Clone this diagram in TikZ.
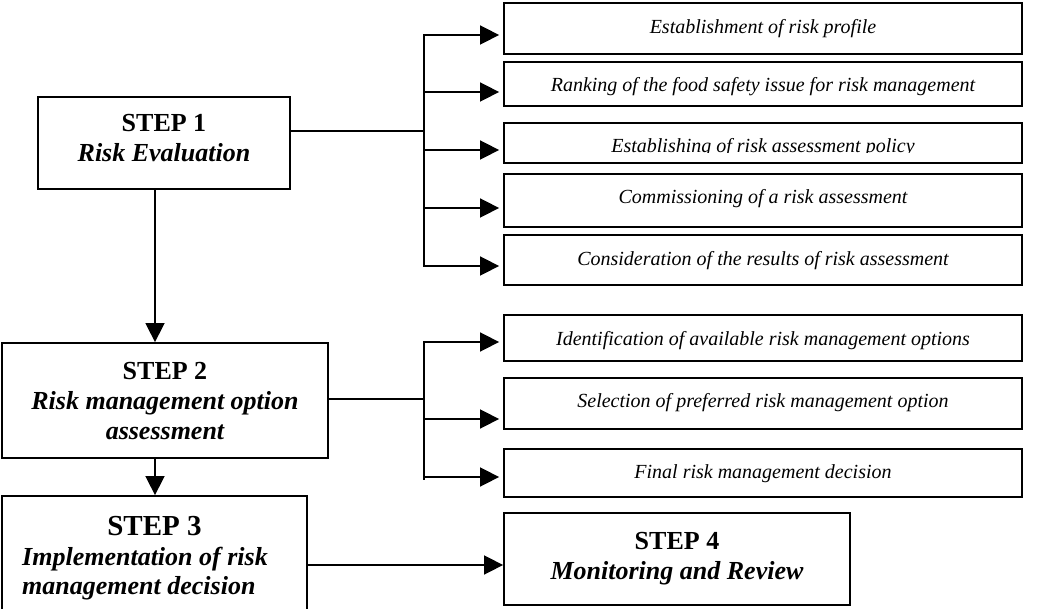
\documentclass[tikz,border=0pt]{standalone}
\usepackage{fontspec}
\setmainfont{Liberation Serif}
\usetikzlibrary{arrows.meta}

\tikzset{
  frame/.style={draw, line width=1.8pt, inner sep=0pt},
  subbox/.style={frame, minimum width=518pt},
  link/.style={line width=1.6pt},
  busline/.style={link, line cap=rect},
  arr/.style={link, -{Triangle[length=19pt,width=19pt]}},
  toboxarr/.style={arr, shorten >=4pt},
  smalltext/.style={font=\fontsize{20}{24}\selectfont\itshape, inner sep=0pt, anchor=base},
  steptext/.style={font=\fontsize{26}{30}\selectfont\bfseries, inner sep=0pt, anchor=base},
}

\begin{document}
\begin{tikzpicture}[x=1pt,y=-1pt]
\useasboundingbox (0,0) rectangle (1038,609);
\clip (0,0) rectangle (1038,609);

% ---- the four steps ----
\node[frame, minimum width=252pt, minimum height=92pt]  (s1) at (164,143)   {};
\node[frame, minimum width=326pt, minimum height=115pt] (s2) at (165,400.5) {};
\node[frame, minimum width=305pt, minimum height=144pt] (s3) at (154.5,568) {};
\node[frame, minimum width=346pt, minimum height=92pt]  (s4) at (677,559)   {};

\node[steptext] (s1t) at (164,132)
  {\begin{tabular}[t]{@{}c@{}}STEP 1\\ \itshape Risk Evaluation\end{tabular}};
\node[steptext] (s2t) at (165,379)
  {\begin{tabular}[t]{@{}c@{}}STEP 2\\ \itshape Risk management option\\ \itshape assessment\end{tabular}};
\node[steptext, font=\fontsize{29}{31}\selectfont\bfseries] (s3t) at (154.5,535) {STEP 3};
\begin{scope}
  \coordinate (cut3) at (0,599);
  \clip (s3.north west) rectangle (s3.east |- cut3);
  \node[steptext, font=\fontsize{26}{28.5}\selectfont\bfseries, anchor=base west] (s3d) at (22,565.5)
    {\begin{tabular}[t]{@{}l@{}}\itshape Implementation of risk\\ \itshape management decision\end{tabular}};
\end{scope}
\node[steptext] (s4t) at (677,549)
  {\begin{tabular}[t]{@{}c@{}}STEP 4\\ \itshape Monitoring and Review\end{tabular}};

% ---- sub-activities ----
\node[subbox, minimum height=51pt] (r1) at (763,28.5)  {};
\node[subbox, minimum height=44pt] (r2) at (763,84)    {};
\node[subbox, minimum height=40pt] (r3) at (763,143)   {};
\node[subbox, minimum height=53pt] (r4) at (763,200.5) {};
\node[subbox, minimum height=50pt] (r5) at (763,260)   {};
\node[subbox, minimum height=46pt] (r6) at (763,338)   {};
\node[subbox, minimum height=51pt] (r7) at (763,403.5) {};
\node[subbox, minimum height=48pt] (r8) at (763,473)   {};

\node[smalltext] (r1t) at (763,34)    {Establishment of risk profile};
\node[smalltext] (r2t) at (763,91.5)  {Ranking of the food safety issue for risk management};
\begin{scope}
  \coordinate (cut1) at (0,153);
  \clip (r3.north west) rectangle (r3.east |- cut1);
  \node[smalltext] (r3t) at (763,152.5) {Establishing of risk assessment policy};
\end{scope}
\node[smalltext] (r4t) at (763,204)   {Commissioning of a risk assessment};
\node[smalltext] (r5t) at (763,265.5) {Consideration of the results of risk assessment};
\node[smalltext] (r6t) at (763,345)   {Identification of available risk management options};
\node[smalltext] (r7t) at (763,407.5) {Selection of preferred risk management option};
\node[smalltext] (r8t) at (763,478)   {Final risk management decision};

% ---- branching from step 1 ----
\coordinate (j1) at (424,131);
\coordinate (b1) at (424,35);
\coordinate (b2) at (424,92);
\coordinate (b3) at (424,150);
\coordinate (b4) at (424,208);
\coordinate (b5) at (424,266);
\draw[link] (s1.east |- j1) -- (j1);
\draw[busline] (b1) -- (b5);
\foreach \i in {1,...,5} \draw[toboxarr] (b\i) -- (b\i -| r\i.west);

% ---- branching from step 2 ----
\coordinate (j2) at (424,399);
\coordinate (c6) at (424,342);
\coordinate (c7) at (424,419);
\coordinate (c8) at (424,477);
\coordinate (cend) at (424,479);
\draw[link] (s2.east |- j2) -- (j2);
\draw[busline] (c6) -- (cend);
\foreach \i in {6,7,8} \draw[toboxarr] (c\i) -- (c\i -| r\i.west);

% ---- main sequence ----
\coordinate (down) at (155,0);
\draw[arr] (s1.south -| down) -- (s2.north -| down);
\draw[arr] (s2.south -| down) -- (s3.north -| down);
\coordinate (h4) at (400,565);
\draw[arr] (h4 -| s3.east) -- (h4 -| s4.west);
\end{tikzpicture}
\end{document}
